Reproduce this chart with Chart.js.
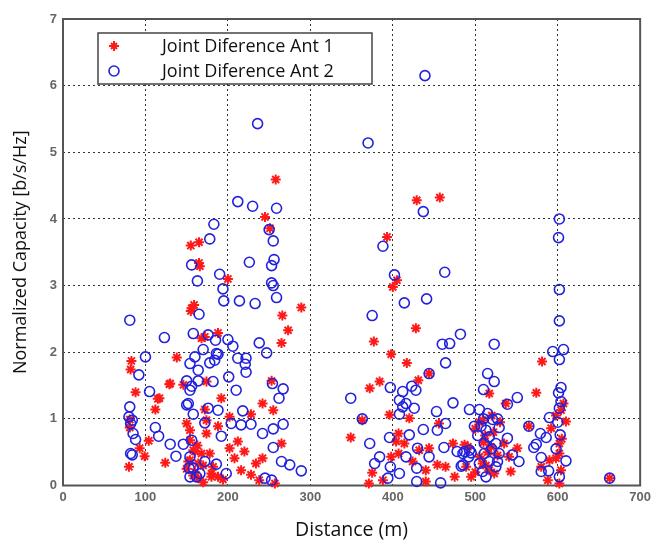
<!DOCTYPE html>
<html>
<head>
<meta charset="utf-8">
<script src="https://cdn.jsdelivr.net/npm/chart.js@4/dist/chart.umd.min.js"></script>
<style>
  html, body { margin: 0; padding: 0; background: #fff; }
  #wrap { width: 655px; height: 542px; }
</style>
</head>
<body>
<div id="wrap"><canvas id="cap" width="655" height="542"></canvas></div>
<script>
// Series labels
const seriesNames = ['Joint Diference Ant 1', 'Joint Diference Ant 2'];

// Ant 1: distance (m) and normalized capacity (b/s/Hz)
const ant1X = [258,245,251,155,165,165,166,200,159,155,289,266,
  83,82,138,88,129,115,112,81,81,104,93,99,124,80,
  273,265,188,172,192,172,242,255,202,228,253,150,154,188,212,265,202,160,178,220,242,152,208,182,216,234,180,228,238,194,164,257,
  156,168,130,117,146,174,174,154,158,168,154,164,174,180,188,
  429,457,393,405,400,
  428,377,398,417,431,384,372,444,363,396,420,456,349,407,414,407,398,432,444,473,487,454,464,440,489,495,375,371,388,440,424,404,
  581,574,537,517,565,592,610,602,551,543,598,580,604,602,588,663,523,509,604,607,602,
  491,519,535,541,505,517,475,509,590,512,520,530,500,515,598,605,160,170,
  510,522,505,527,513,500,158,150,163,170];
const ant1Y = [4.59,4.03,3.86,3.60,3.65,3.34,3.29,3.10,2.71,2.62,2.67,2.55,
  1.87,1.74,1.92,1.40,1.52,1.30,1.14,0.99,0.87,0.67,0.56,0.44,0.34,0.28,
  2.33,2.14,2.29,2.23,1.31,1.14,1.23,1.13,1.03,1.07,1.57,0.93,0.83,0.89,0.66,0.63,0.56,0.51,0.48,0.51,0.41,0.36,0.41,0.28,0.23,0.33,0.13,0.16,0.08,0.09,0.11,0.03,
  2.66,2.21,1.53,1.31,1.51,1.56,0.78,0.68,0.53,0.48,0.38,0.33,0.98,0.18,0.13,
  4.28,4.32,3.73,3.08,2.98,
  2.36,2.16,1.97,1.84,1.58,1.56,1.46,1.68,0.98,1.06,1.01,0.93,0.72,0.78,0.63,0.48,0.43,0.53,0.56,0.63,0.61,0.31,0.28,0.23,0.28,0.13,0.19,0.03,0.08,0.06,0.36,0.66,
  1.86,1.39,1.23,1.38,0.89,0.86,0.96,0.63,0.56,0.21,0.41,0.28,0.23,0.03,0.08,0.11,0.18,0.98,1.13,1.23,0.48,
  0.58,0.58,0.63,0.43,0.43,0.23,0.13,0.33,0.38,0.75,1.05,0.95,0.85,0.50,1.05,0.70,0.20,0.05,
  0.65,0.80,0.95,0.45,0.30,0.20,0.15,0.25,0.60,0.30];

// Ant 2: distance (m) and normalized capacity (b/s/Hz)
const ant2X = [236,212,230,259,183,178,250,255,156,226,256,253,163,190,194,253,255,259,195,214,233,165,81,
  123,100,92,105,81,80,82,112,116,88,130,146,82,84,137,
  158,176,185,200,206,170,188,160,154,178,212,222,221,238,247,164,222,201,150,164,156,210,254,267,262,150,176,188,218,158,172,204,216,228,242,255,267,192,156,255,154,172,186,265,275,158,166,198,154,245,253,289,
  154,152,153,162,182,184,186,84,85,
  439,370,437,388,402,463,414,441,375,
  482,460,469,464,444,397,423,428,412,349,408,416,426,473,453,493,505,408,412,363,464,454,499,437,420,396,372,462,430,384,378,416,444,478,487,495,492,397,429,483,408,394,429,458,
  602,601,602,602,523,594,607,602,515,523,510,604,601,551,539,604,602,590,515,529,565,579,586,574,571,539,603,580,553,545,610,580,589,527,511,663,602,
  521,507,513,517,525,493,485,511,529,517,505,525,485,509,513,600,598,
  503,520,510,527];
const ant2Y = [5.43,4.26,4.19,4.16,3.92,3.70,3.84,3.67,3.31,3.35,3.39,3.30,3.07,3.17,2.95,3.04,3.00,2.82,2.77,2.77,2.73,2.57,2.48,
  2.22,1.93,1.66,1.41,1.18,1.03,0.93,0.87,0.74,0.69,0.62,0.62,0.48,0.46,0.44,
  2.28,2.26,2.18,2.19,2.09,2.04,1.97,1.93,1.83,1.84,1.91,1.91,1.82,2.14,1.99,1.73,1.70,1.63,1.57,1.57,1.49,1.43,1.53,1.45,1.31,1.21,1.16,1.13,1.12,1.07,0.94,0.93,0.91,0.92,0.78,0.85,0.92,0.74,0.68,0.57,0.43,0.36,0.32,0.36,0.31,0.26,0.18,0.18,0.13,0.11,0.08,0.22,
  1.43,1.23,0.26,0.13,1.56,1.88,1.98,0.98,0.78,
  6.15,5.14,4.11,3.59,3.16,3.20,2.74,2.80,2.55,
  2.27,2.12,2.13,1.84,1.68,1.47,1.49,1.43,1.41,1.31,1.28,1.23,1.16,1.24,1.11,1.14,1.14,1.07,1.18,1.00,0.93,0.83,0.89,0.84,0.76,0.72,0.63,0.57,0.56,0.43,0.33,0.43,0.43,0.51,0.51,0.49,0.43,0.28,0.26,0.29,0.18,0.11,0.06,0.04,
  4.00,3.72,2.94,2.47,2.12,2.01,2.04,1.89,1.68,1.56,1.44,1.47,1.39,1.32,1.22,1.26,1.16,1.02,1.08,0.87,0.89,0.78,0.72,0.62,0.57,0.71,0.76,0.42,0.36,0.46,0.37,0.21,0.22,0.36,0.63,0.11,0.13,
  0.99,0.89,0.83,0.73,0.63,0.53,0.48,0.48,0.48,0.36,0.33,0.28,0.31,0.21,0.13,0.95,0.55,
  0.75,0.55,1.00,1.00];

// Axis tick values
const xTicks = [0, 100, 200, 300, 400, 500, 600, 700];
const yTicks = [0, 1, 2, 3, 4, 5, 6, 7];

const RED = '#ff1a1a';
const BLUE = '#2222dd';
const toPoints = (xs, ys) => xs.map((x, i) => ({ x: x, y: ys[i] }));

// Dark frame around the plotting area
const framePlugin = {
  id: 'frame',
  beforeDatasetsDraw(chart) {
    const a = chart.chartArea, c = chart.ctx;
    c.save();
    c.strokeStyle = '#555';
    c.lineWidth = 2;
    c.strokeRect(a.left, a.top, a.right - a.left, a.bottom - a.top);
    c.restore();
  }
};

// Boxed legend in the upper-left corner of the plot
const boxLegend = {
  id: 'boxLegend',
  afterDraw(chart) {
    const c = chart.ctx;
    const bx = 98, by = 33, bw = 274, bh = 51;
    c.save();
    c.fillStyle = '#fff';
    c.fillRect(bx, by, bw, bh);
    c.strokeStyle = '#444';
    c.lineWidth = 1.5;
    c.strokeRect(bx, by, bw, bh);
    chart.data.datasets.forEach((ds, i) => {
      const cy = by + 13 + i * 25;
      const mx = bx + 16;
      c.strokeStyle = ds.borderColor;
      c.lineWidth = ds.borderWidth;
      c.beginPath();
      if (ds.pointStyle === 'circle') {
        c.arc(mx, cy, ds.pointRadius, 0, Math.PI * 2);
      } else {
        const r = ds.pointRadius;
        c.moveTo(mx - r, cy); c.lineTo(mx + r, cy);
        c.moveTo(mx, cy - r); c.lineTo(mx, cy + r);
        const d = r * 0.6;
        c.moveTo(mx - d, cy - d); c.lineTo(mx + d, cy + d);
        c.moveTo(mx - d, cy + d); c.lineTo(mx + d, cy - d);
      }
      c.stroke();
      c.fillStyle = '#111';
      c.font = '18px "Open Sans", sans-serif';
      c.textBaseline = 'middle';
      c.textAlign = 'left';
      c.fillText(ds.label, bx + 64, cy + 1);
    });
    c.restore();
  }
};

const tickFont = { family: 'Arial, "Liberation Sans", sans-serif', size: 13, weight: 'bold' };

new Chart(document.getElementById('cap'), {
  type: 'scatter',
  data: {
    datasets: [
      {
        label: seriesNames[0],
        data: toPoints(ant1X, ant1Y),
        pointStyle: 'star',
        pointRadius: 5,
        borderWidth: 2,
        borderColor: RED,
        backgroundColor: RED,
        order: 1,
        clip: false
      },
      {
        label: seriesNames[1],
        data: toPoints(ant2X, ant2Y),
        pointStyle: 'circle',
        pointRadius: 5,
        borderWidth: 1.6,
        borderColor: BLUE,
        backgroundColor: 'rgba(0,0,0,0)',
        order: 0,
        clip: false
      }
    ]
  },
  options: {
    responsive: false,
    animation: false,
    layout: { padding: { left: 0, right: 14, top: 19, bottom: 0 } },
    plugins: {
      legend: { display: false },
      tooltip: { enabled: false }
    },
    scales: {
      x: {
        type: 'linear',
        min: 0, max: 700,
        afterBuildTicks(s) { s.ticks = xTicks.map(v => ({ value: v })); },
        afterFit(s) { s.height = 56.5; },
        ticks: { color: '#666', font: tickFont, padding: 4 },
        grid: { color: '#333', lineWidth: 1, drawTicks: false, tickLength: 0 },
        border: { display: false, dash: [2, 3] },
        title: {
          display: true,
          text: 'Distance (m)',
          color: '#111',
          font: { family: '"Open Sans", sans-serif', size: 19.5 },
          padding: { top: 8, bottom: 0 }
        }
      },
      y: {
        type: 'linear',
        min: 0, max: 7,
        afterBuildTicks(s) { s.ticks = yTicks.map(v => ({ value: v })); },
        afterFit(s) { s.width = 63; },
        ticks: { color: '#666', font: tickFont, padding: 6 },
        grid: { color: '#333', lineWidth: 1, drawTicks: false, tickLength: 0 },
        border: { display: false, dash: [2, 3] },
        title: {
          display: true,
          text: 'Normalized Capacity [b/s/Hz]',
          color: '#111',
          font: { family: '"Open Sans", sans-serif', size: 18 },
          padding: { top: 10, bottom: 0 }
        }
      }
    }
  },
  plugins: [framePlugin, boxLegend]
});
</script>
</body>
</html>
